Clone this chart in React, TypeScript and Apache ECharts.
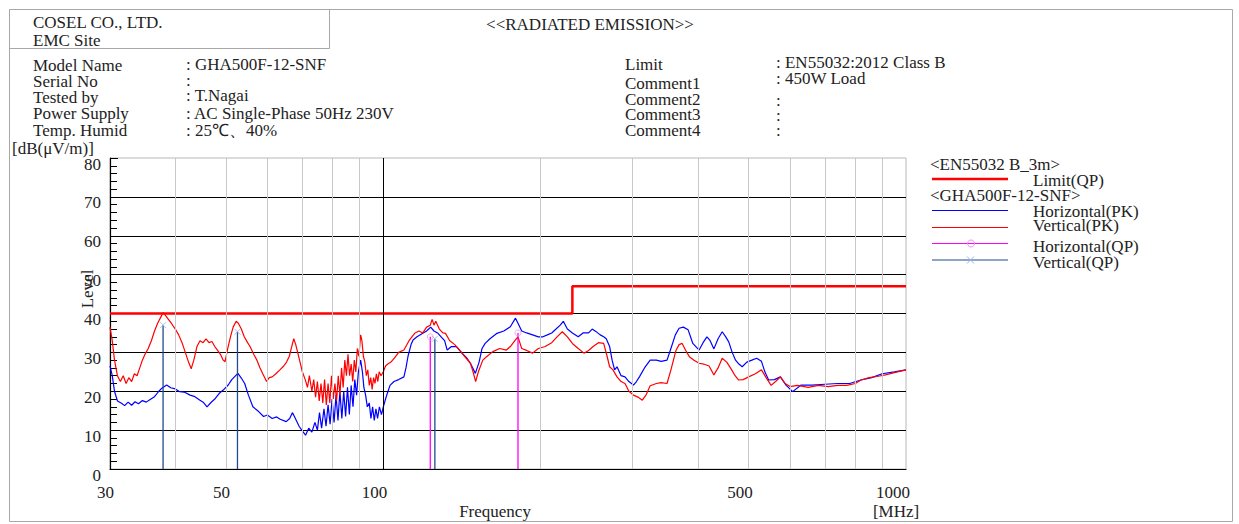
import React, { useEffect, useRef } from "react";
import * as echarts from "echarts";

// ---------- data (frequency in MHz, level in dB(uV/m)) ----------
const limitQP: number[][] = [[30, 40], [230, 40], [230, 47], [1000, 47]];

const horizontalPK: number[][] = [
  [30, 26.5], [30.3, 24], [30.6, 20], [31, 17.5], [31.5, 17], [32, 16.3], [32.5, 17.2], [33, 16.4], [33.5, 17.3], [34, 16.8],
  [34.6, 17.6], [35.2, 17.2], [35.8, 17.9], [36.5, 18.6], [37.2, 20], [37.7, 20.8], [38.5, 21.6], [39.2, 20.9], [40, 20.6], [40.8, 19.9],
  [41.6, 19.8], [42.7, 19], [43.6, 18.6], [44.6, 17.7], [45.3, 17.1], [46, 16], [46.8, 17.1], [47.6, 18], [48.5, 19.4], [49.4, 20.3],
  [50.5, 21.6], [51.3, 23], [51.9, 23.7], [52.7, 24.6], [53.5, 23.4], [54.3, 22], [55.2, 19], [56.3, 16], [57.5, 15], [59, 13.5],
  [60, 13.9], [61.3, 13], [62.5, 13.4], [63.5, 12.8], [65.2, 12.2], [66.2, 13], [67, 14.5], [67.6, 13.5], [69, 11], [70, 9.8],
  [71, 8.7], [72, 10.5], [73, 9.5], [74, 12], [74.8, 10], [75.5, 14.5], [76.2, 10.5], [77, 15.5], [77.7, 11], [78.4, 16.5],
  [79.1, 11.5], [79.8, 18], [80.5, 12], [81.2, 19], [81.9, 12.5], [82.6, 20], [83.3, 13], [84, 20], [84.7, 13.5], [85.4, 21],
  [86.1, 14], [86.8, 21.5], [87.5, 16], [88.2, 23], [88.9, 19], [89.6, 25], [90.5, 28], [91.2, 25], [91.8, 21], [92.5, 19],
  [93.2, 16], [94, 17], [94.7, 13], [95.4, 16], [96.1, 12.5], [96.8, 15.5], [97.5, 13], [98.3, 16], [99.2, 14], [100, 16],
  [101, 18], [101.8, 19.5], [103, 21.5], [104.8, 22.5], [107, 23], [109.5, 23.7], [110.5, 26], [111.5, 29], [113, 32], [114, 33.2],
  [116, 34], [119, 34.9], [121, 35.5], [123.2, 36.5], [125, 35.5], [127, 35], [129, 34], [131, 33], [132.5, 30.6], [135, 31.5],
  [138, 31.5], [141, 30], [144.6, 28.5], [147, 27], [150, 24.6], [152.5, 27.5], [154.5, 31], [156.6, 32.3], [160, 33.5], [165, 34.9],
  [170, 35.5], [175, 36.6], [179, 38.8], [181, 37.5], [184, 35.5], [188, 35], [193, 34.5], [198, 34], [202, 34], [206, 34.5],
  [210, 35], [214, 36], [218, 37], [221, 38], [225, 36], [230, 35], [236, 34], [241, 35], [247, 35], [251, 36],
  [255, 35.4], [260, 34.5], [264, 34], [267, 33.5], [271, 31.5], [274, 28], [277, 25.5], [280, 26.3], [285, 24], [290, 23.7],
  [295, 22.5], [301, 21.6], [305, 22.5], [309, 23.7], [316, 26], [324, 28], [333, 28], [340, 27.7], [349, 28], [355, 31],
  [362, 34.5], [368, 36.2], [375, 36.5], [383, 35.8], [391, 32.3], [402, 30.6], [409, 32.5], [416, 34], [422, 33], [429, 30.9],
  [437, 33.5], [445, 35.3], [452, 34], [458, 32.7], [465, 30], [472, 28], [479, 27], [486, 26.3], [496, 27.5], [507, 28],
  [518, 28.5], [529, 27.7], [537, 25], [546, 22.9], [560, 23], [575, 23.7], [590, 21.5], [607, 19.9], [630, 21.6], [660, 21.6],
  [700, 21.8], [740, 22], [780, 22], [820, 22.9], [860, 23.5], [900, 24.5], [950, 25], [1000, 25.5],
];

const verticalPK: number[][] = [
  [30, 36.5], [30.3, 33], [30.6, 28], [31, 24], [31.4, 22.5], [31.8, 24], [32.2, 22], [32.6, 23.5], [33, 22.5], [33.4, 24.5],
  [33.8, 24], [34.2, 26], [34.6, 28], [35, 29.5], [35.5, 31], [36, 33], [36.5, 35.5], [37, 37.5], [37.5, 39], [37.9, 40.2],
  [38.3, 39.5], [38.8, 38.5], [39.3, 37.5], [40, 36], [40.6, 34.5], [41.2, 32.5], [41.8, 30], [42.4, 27.5], [42.9, 25.8], [43.4, 28],
  [44, 31.5], [44.6, 33], [45.2, 32.5], [45.8, 33.5], [46.4, 32.5], [47, 32.8], [47.6, 31.5], [48.2, 30.5], [48.8, 29.5], [49.4, 28],
  [49.8, 27.6], [50.4, 31], [51, 34], [51.6, 36.5], [52.3, 38], [52.8, 37.5], [53.5, 36], [54.2, 34], [55, 32.5], [55.6, 31.5],
  [56.5, 29.5], [57.3, 28], [58.1, 26], [58.8, 24.5], [59.8, 22.5], [60.5, 23.5], [61.3, 23.7], [62.3, 24.5], [63.4, 25.5], [64.5, 26.5],
  [65.3, 27.5], [66.1, 29], [66.8, 31.5], [67.4, 33.5], [68, 32], [69, 28.5], [70, 25], [70.9, 23], [71.6, 21], [72.2, 24],
  [73, 20], [73.6, 23], [74.2, 18.5], [74.8, 22.5], [75.4, 17.5], [76, 22], [76.6, 17], [77.2, 23], [77.8, 16.5], [78.4, 22],
  [79, 17], [79.6, 24], [80.2, 18], [80.8, 22], [81.4, 17.5], [82, 24], [82.6, 19], [83.2, 26], [83.8, 21], [84.4, 28],
  [85, 24], [85.6, 29.5], [86.2, 24], [86.8, 27], [87.4, 22.5], [88, 28], [88.6, 25], [89.2, 31], [89.8, 29], [90.5, 34.5],
  [91, 33], [91.6, 29], [92.2, 27.5], [92.8, 24], [93.4, 25.5], [94, 21.5], [94.6, 23.5], [95.2, 20.5], [95.8, 23.5], [96.4, 22],
  [97, 24.5], [97.6, 22.5], [98.2, 25], [99, 24], [100, 25], [101, 26.5], [102, 27], [103.6, 27.6], [105, 28.5], [107, 30],
  [109.5, 30.6], [112, 33], [114.8, 34.9], [117, 35.5], [119, 35], [121, 36.5], [123, 37], [124, 38.5], [125, 37], [126, 38],
  [128, 36], [130, 35], [131.5, 34.9], [134, 33], [137, 32], [140, 30.6], [143, 29], [146.8, 27.2], [148.5, 25], [150.2, 22.5],
  [152, 25], [155, 28], [158, 29], [162, 30.2], [167, 31], [172, 30.6], [175, 31.5], [179, 33.2], [181, 34], [184, 31],
  [188, 30.5], [193, 29.8], [198, 31], [204, 31.5], [210, 32.5], [215, 34], [220, 35.3], [225, 34], [230, 32.3], [236, 31],
  [242, 29.8], [247, 30.5], [252, 31.5], [258, 32.5], [264, 32.3], [268, 29], [271, 26.3], [275, 25.5], [280, 23.7], [285, 22.5],
  [290, 22], [295, 20], [301, 19], [307, 18.5], [313, 17.7], [318, 19], [324, 21.4], [333, 22], [340, 22.2], [349, 22],
  [355, 25.5], [363, 30.5], [368, 32], [373, 32.3], [379, 30.5], [385, 28.9], [393, 28], [402, 27.2], [410, 27], [420, 26.5],
  [429, 24.2], [437, 26], [445, 28.5], [454, 27.5], [464, 25.5], [471, 24], [478, 22.9], [488, 23], [500, 23.7], [515, 24.5],
  [529, 25.5], [540, 23.5], [552, 21.5], [563, 22.5], [575, 23.7], [587, 22], [600, 21.2], [620, 21.5], [650, 21], [680, 21.5],
  [710, 21.2], [740, 21.5], [770, 21.5], [800, 22], [820, 22.9], [850, 23.5], [880, 23.8], [913, 24.2], [950, 24.8], [1000, 25.5],
];

const horizontalQP: number[][] = [[123, 34], [181, 35]];
const verticalQP: number[][] = [[37.9, 37], [52.6, 35.3], [125.5, 33.5]];

const xTickLabels: number[] = [30, 50, 100, 500, 1000];
const minorGridFreqs: number[] = [40, 50, 60, 70, 80, 90, 200, 300, 400, 500, 600, 700, 800, 900];
const majorGridFreqs: number[] = [100];

const infoLeftLabels: string[] = ["Model Name", "Serial No", "Tested by", "Power Supply", "Temp. Humid"];
const infoLeftValues: string[] = [": GHA500F-12-SNF", ":", ": T.Nagai", ": AC Single-Phase 50Hz 230V", ": 25℃、40%"];
const infoRightLabels: string[] = ["Limit", "Comment1", "Comment2", "Comment3", "Comment4"];
const infoRightValues: string[] = [": EN55032:2012 Class B", ": 450W Load", ":", ":", ":"];

const legendHeaders: string[] = ["<EN55032 B_3m>", "<GHA500F-12-SNF>"];
const seriesNames: string[] = ["Limit(QP)", "Horizontal(PK)", "Vertical(PK)", "Horizontal(QP)", "Vertical(QP)"];

// ---------- styles ----------
const FONT = "'Liberation Serif', 'Times New Roman', serif";
const TXT = "#222222";
const FS = 17;
const RED = "#ff0000";
const BLUE = "#0000ff";
const MAGENTA = "#ff00ff";
const NAVY = "#1f4b8f";
const FRAME = "#a8a8a8";

function txt(text: string, x: number, y: number, extra: any = {}) {
  return {
    type: "text",
    x,
    y,
    silent: true,
    style: {
      text,
      font: `${FS}px ${FONT}`,
      fill: TXT,
      textVerticalAlign: "middle",
      lineHeight: 13,
      ...extra,
    },
  };
}

function hline(x1: number, x2: number, y: number, stroke: string, lineWidth: number) {
  return { type: "line", silent: true, shape: { x1, y1: y, x2, y2: y }, style: { stroke, lineWidth } };
}

export default function App() {
  const ref = useRef<HTMLDivElement>(null);

  useEffect(() => {
    if (!ref.current) return;
    const chart = echarts.init(ref.current, undefined, { renderer: "svg" });

    const leftY = [65, 81.5, 97, 113.5, 130];
    const leftValY = [64, 80, 95.5, 113.5, 130];
    const rightY = [64, 83.5, 99.5, 114.5, 130.5];
    const rightValY = [62.5, 78.5, 100, 115.5, 130.5];

    const graphics: any[] = [];
    // frames
    graphics.push({ type: "rect", silent: true, shape: { x: 9.5, y: 9.5, width: 1223, height: 512 }, style: { fill: "none", stroke: FRAME, lineWidth: 1 } });
    graphics.push({ type: "rect", silent: true, shape: { x: 9.5, y: 9.5, width: 320, height: 39 }, style: { fill: "none", stroke: FRAME, lineWidth: 1 } });
    graphics.push(txt("COSEL CO., LTD.", 33, 22));
    graphics.push(txt("EMC Site", 33, 40.5));
    graphics.push(txt("<<RADIATED EMISSION>>", 590, 24, { textAlign: "center" }));
    infoLeftLabels.forEach((t, i) => graphics.push(txt(t, 33, leftY[i])));
    infoLeftValues.forEach((t, i) => graphics.push(txt(t, 186, leftValY[i])));
    infoRightLabels.forEach((t, i) => graphics.push(txt(t, 625, rightY[i])));
    infoRightValues.forEach((t, i) => graphics.push(txt(t, 776, rightValY[i])));
    graphics.push(txt("[dB(μV/m)]", 12, 148.5));
    graphics.push({
      type: "text",
      silent: true,
      x: 87.5,
      y: 289,
      rotation: Math.PI / 2,
      style: { text: "Level", font: `${FS}px ${FONT}`, fill: TXT, textAlign: "center", textVerticalAlign: "middle", lineHeight: 13 },
    });
    graphics.push(txt("Frequency", 495, 511, { textAlign: "center" }));
    graphics.push(txt("[MHz]", 896, 511, { textAlign: "center" }));

    // legend
    graphics.push(txt(legendHeaders[0], 930, 164));
    graphics.push(hline(932, 1008, 179, RED, 2.5));
    graphics.push(txt(seriesNames[0], 1033, 180.5));
    graphics.push(txt(legendHeaders[1], 930, 195.5));
    graphics.push(hline(932, 1008, 210.5, BLUE, 1));
    graphics.push(txt(seriesNames[1], 1033, 211.5));
    graphics.push(hline(932, 1008, 227.5, RED, 1));
    graphics.push(txt(seriesNames[2], 1033, 225.5));
    graphics.push(hline(932, 1008, 243.5, MAGENTA, 1));
    graphics.push({ type: "circle", silent: true, shape: { cx: 971, cy: 243.5, r: 3.5 }, style: { fill: "none", stroke: "#f090f0", lineWidth: 1 } });
    graphics.push(txt(seriesNames[3], 1033, 246));
    graphics.push(hline(932, 1008, 260, NAVY, 1));
    graphics.push({ type: "line", silent: true, shape: { x1: 967, y1: 256.5, x2: 974, y2: 263.5 }, style: { stroke: "#9ab4e0", lineWidth: 1 } });
    graphics.push({ type: "line", silent: true, shape: { x1: 974, y1: 256.5, x2: 967, y2: 263.5 }, style: { stroke: "#9ab4e0", lineWidth: 1 } });
    graphics.push(txt(seriesNames[4], 1033, 262.5));

    const gridLineData: any[] = [
      ...minorGridFreqs.map((f) => ({ xAxis: f, lineStyle: { color: "#c8c8c8", width: 1, type: "solid" } })),
      ...majorGridFreqs.map((f) => ({ xAxis: f, lineStyle: { color: "#000000", width: 1, type: "solid" } })),
    ];

    const qpRender = (color: string) => (params: any, api: any) => {
      const top = api.coord([api.value(0), api.value(1)]);
      const bottom = api.coord([api.value(0), 0]);
      return {
        type: "line",
        shape: { x1: top[0], y1: top[1], x2: bottom[0], y2: bottom[1] },
        style: { stroke: color, lineWidth: 1.3 },
      };
    };

    const xLabelRender = (params: any, api: any) => {
      const p = api.coord([api.value(0), 0]);
      return {
        type: "text",
        x: p[0] + 4,
        y: p[1] + 23,
        silent: true,
        style: {
          text: String(api.value(0)),
          font: `${FS}px ${FONT}`,
          fill: TXT,
          textAlign: "right",
          textVerticalAlign: "middle",
        },
      };
    };

    chart.setOption({
      animation: false,
      backgroundColor: "#ffffff",
      grid: { left: 110, right: 333, top: 158, bottom: 55, show: true, borderColor: "#b8b8b8", borderWidth: 1, backgroundColor: "transparent" },
      xAxis: {
        type: "log",
        logBase: 10,
        min: 30,
        max: 1000,
        axisLine: { show: true, onZero: false, lineStyle: { color: "#000", width: 1.2 } },
        axisTick: { show: false },
        axisLabel: { show: false },
        splitLine: { show: false },
        minorTick: { show: false },
      },
      yAxis: {
        type: "value",
        min: 0,
        max: 80,
        interval: 10,
        axisLine: { show: true, lineStyle: { color: "#000", width: 1.2 } },
        axisTick: { show: true, inside: true, length: 8, lineStyle: { color: "#000" } },
        minorTick: { show: true, splitNumber: 5, length: 7, lineStyle: { color: "#000" } },
        axisLabel: { fontFamily: FONT, fontSize: FS, color: TXT, margin: 9, verticalAlign: "top", lineHeight: 12 },
        splitLine: { show: true, showMaxLine: false, lineStyle: { color: "#000", width: 1 } },
      },
      graphic: graphics,
      series: [
        {
          name: seriesNames[0],
          type: "line",
          data: limitQP,
          symbol: "none",
          lineStyle: { color: RED, width: 2.5 },
          z: 1,
          markLine: { silent: true, symbol: "none", animation: false, label: { show: false }, data: gridLineData },
        },
        {
          name: "xTickLabels",
          type: "custom",
          data: xTickLabels.map((f) => [f]),
          renderItem: xLabelRender,
          clip: false,
          silent: true,
          z: 1,
        },
        {
          name: seriesNames[1],
          type: "line",
          data: horizontalPK,
          symbol: "none",
          lineStyle: { color: BLUE, width: 1.2 },
          z: 3,
        },
        {
          name: seriesNames[2],
          type: "line",
          data: verticalPK,
          symbol: "none",
          lineStyle: { color: RED, width: 1.2 },
          z: 4,
        },
        {
          name: seriesNames[3],
          type: "custom",
          data: horizontalQP,
          renderItem: qpRender(MAGENTA),
          z: 5,
        },
        {
          name: seriesNames[4],
          type: "custom",
          data: verticalQP,
          renderItem: qpRender(NAVY),
          z: 5,
        },
        {
          name: seriesNames[3] + " marker",
          type: "scatter",
          data: horizontalQP,
          symbol: "circle",
          symbolSize: 6,
          itemStyle: { color: "transparent", borderColor: "#f090f0", borderWidth: 1 },
          z: 6,
        },
        {
          name: seriesNames[4] + " marker",
          type: "scatter",
          data: verticalQP,
          symbol: "path://M0,0L10,10M10,0L0,10",
          symbolSize: 6,
          itemStyle: { color: "transparent", borderColor: "#9ab4e0", borderWidth: 1 },
          z: 6,
        },
      ],
    });

    return () => chart.dispose();
  }, []);

  return (
    <div
      ref={ref}
      style={{ position: "absolute", left: 0, top: 0, width: 1239, height: 524, background: "#fff" }}
    />
  );
}
